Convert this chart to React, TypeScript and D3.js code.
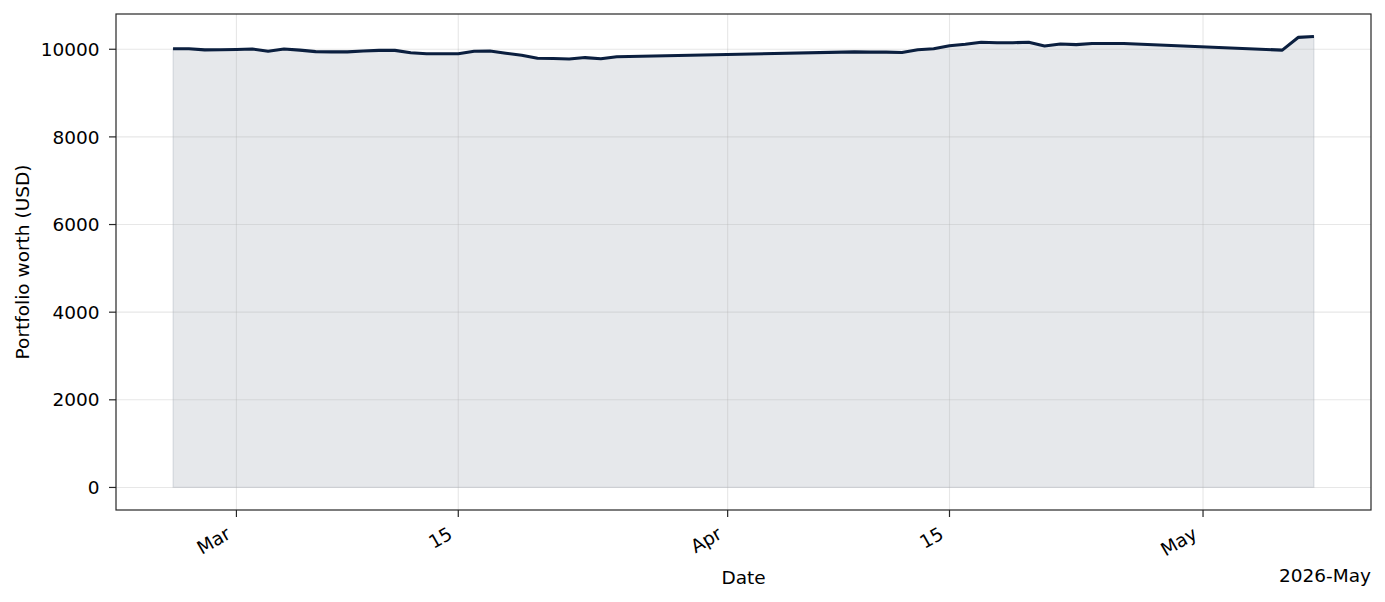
import { useEffect, useRef } from 'react';
import * as d3 from 'd3';

// Daily portfolio value
const DATES = [
  '2026-02-25', '2026-02-26', '2026-02-27', '2026-02-28', '2026-03-01', '2026-03-02',
  '2026-03-03', '2026-03-04', '2026-03-05', '2026-03-06', '2026-03-07', '2026-03-08',
  '2026-03-09', '2026-03-10', '2026-03-11', '2026-03-12', '2026-03-13', '2026-03-14',
  '2026-03-15', '2026-03-16', '2026-03-17', '2026-03-18', '2026-03-19', '2026-03-20',
  '2026-03-21', '2026-03-22', '2026-03-23', '2026-03-24', '2026-03-25',
  '2026-04-09', '2026-04-10', '2026-04-11', '2026-04-12', '2026-04-13', '2026-04-14',
  '2026-04-15', '2026-04-16', '2026-04-17', '2026-04-18', '2026-04-19', '2026-04-20',
  '2026-04-21', '2026-04-22', '2026-04-23', '2026-04-24', '2026-04-25', '2026-04-26',
  '2026-05-06', '2026-05-07', '2026-05-08',
];

const VALUES = [
  10010, 10010, 9985, 9990, 9995, 10005,
  9955, 10005, 9980, 9945, 9940, 9940,
  9960, 9975, 9975, 9920, 9898, 9898,
  9898, 9955, 9960, 9910, 9865, 9795,
  9790, 9777, 9810, 9785, 9830,
  9940, 9935, 9935, 9925, 9990, 10010,
  10080, 10115, 10160, 10150, 10150, 10160,
  10075, 10120, 10105, 10130, 10130, 10130,
  9980, 10270, 10290,
];

const X_TICKS = ['2026-03-01', '2026-03-15', '2026-04-01', '2026-04-15', '2026-05-01'];
const X_TICK_LABELS = ['Mar', '15', 'Apr', '15', 'May'];
const Y_TICKS = [0, 2000, 4000, 6000, 8000, 10000];

const LINE_COLOR = '#0b1f3f';
const AXIS_COLOR = '#262626';
const FONT = '"DejaVu Sans", sans-serif';
const FONT_SIZE = '18.5px';

const App = () => {
  const svgRef = useRef<SVGSVGElement>(null);

  useEffect(() => {
    if (!svgRef.current) return;
    d3.select(svgRef.current).selectAll('*').remove();

    const width = 1385;
    const height = 602;
    const margin = { top: 14, right: 14, bottom: 92, left: 116 };
    const x0 = margin.left;
    const x1 = width - margin.right;
    const y0 = height - margin.bottom;
    const y1 = margin.top;

    const svg = d3.select(svgRef.current).attr('width', width).attr('height', height);

    const data = DATES.map((d, i) => ({ date: new Date(d + 'T00:00:00Z'), value: VALUES[i] }));

    // matplotlib-style 5% margins
    const [tMin, tMax] = d3.extent(data, (d) => +d.date) as [number, number];
    const tPad = (tMax - tMin) * 0.05;
    const vMax = d3.max(VALUES) as number;
    const vPad = vMax * 0.05;

    const x = d3.scaleUtc().domain([tMin - tPad, tMax + tPad]).range([x0, x1]);
    const y = d3.scaleLinear().domain([-vPad, vMax + vPad]).range([y0, y1]);

    // Fill under the curve
    const area = d3
      .area<{ date: Date; value: number }>()
      .x((d) => x(d.date))
      .y0(y(0))
      .y1((d) => y(d.value));

    svg
      .append('path')
      .datum(data)
      .attr('d', area)
      .attr('fill', LINE_COLOR)
      .attr('fill-opacity', 0.1)
      .attr('stroke', LINE_COLOR)
      .attr('stroke-opacity', 0.1)
      .attr('stroke-width', 1.3);

    // Grid
    const grid = svg.append('g').attr('stroke', '#b0b0b0').attr('stroke-opacity', 0.3).attr('stroke-width', 1.1);
    X_TICKS.forEach((t) => {
      const px = x(new Date(t + 'T00:00:00Z'));
      grid.append('line').attr('x1', px).attr('x2', px).attr('y1', y1).attr('y2', y0);
    });
    Y_TICKS.forEach((v) => {
      grid.append('line').attr('x1', x0).attr('x2', x1).attr('y1', y(v)).attr('y2', y(v));
    });

    // Line
    const line = d3
      .line<{ date: Date; value: number }>()
      .x((d) => x(d.date))
      .y((d) => y(d.value));

    svg
      .append('path')
      .datum(data)
      .attr('d', line)
      .attr('fill', 'none')
      .attr('stroke', LINE_COLOR)
      .attr('stroke-width', 3.1)
      .attr('stroke-linejoin', 'round');

    // Frame
    svg
      .append('rect')
      .attr('x', x0)
      .attr('y', y1)
      .attr('width', x1 - x0)
      .attr('height', y0 - y1)
      .attr('fill', 'none')
      .attr('stroke', AXIS_COLOR)
      .attr('stroke-width', 1.2);

    // X ticks
    X_TICKS.forEach((t, i) => {
      const px = x(new Date(t + 'T00:00:00Z'));
      svg
        .append('line')
        .attr('x1', px)
        .attr('x2', px)
        .attr('y1', y0)
        .attr('y2', y0 + 7)
        .attr('stroke', AXIS_COLOR)
        .attr('stroke-width', 1.2);
      svg
        .append('text')
        .attr('transform', `translate(${px - 4.5},${y0 + 27.5}) rotate(-30)`)
        .attr('text-anchor', 'end')
        .attr('font-family', FONT)
        .attr('font-size', FONT_SIZE)
        .attr('fill', '#000')
        .text(X_TICK_LABELS[i]);
    });

    // Y ticks
    Y_TICKS.forEach((v) => {
      svg
        .append('line')
        .attr('x1', x0 - 7)
        .attr('x2', x0)
        .attr('y1', y(v))
        .attr('y2', y(v))
        .attr('stroke', AXIS_COLOR)
        .attr('stroke-width', 1.2);
      svg
        .append('text')
        .attr('x', x0 - 16.5)
        .attr('y', y(v))
        .attr('dy', '0.36em')
        .attr('text-anchor', 'end')
        .attr('font-family', FONT)
        .attr('font-size', FONT_SIZE)
        .attr('fill', '#000')
        .text(v);
    });

    // Axis labels
    svg
      .append('text')
      .attr('x', (x0 + x1) / 2)
      .attr('y', 584)
      .attr('text-anchor', 'middle')
      .attr('font-family', FONT)
      .attr('font-size', FONT_SIZE)
      .text('Date');

    svg
      .append('text')
      .attr('x', x1)
      .attr('y', 581.5)
      .attr('text-anchor', 'end')
      .attr('font-family', FONT)
      .attr('font-size', FONT_SIZE)
      .text('2026-May');

    svg
      .append('text')
      .attr('transform', `translate(28.5,${(y0 + y1) / 2}) rotate(-90)`)
      .attr('text-anchor', 'middle')
      .attr('font-family', FONT)
      .attr('font-size', FONT_SIZE)
      .text('Portfolio worth (USD)');
  }, []);

  return <svg ref={svgRef} style={{ position: 'absolute', left: 0, top: 0, background: '#fff' }} />;
};

export default App;
